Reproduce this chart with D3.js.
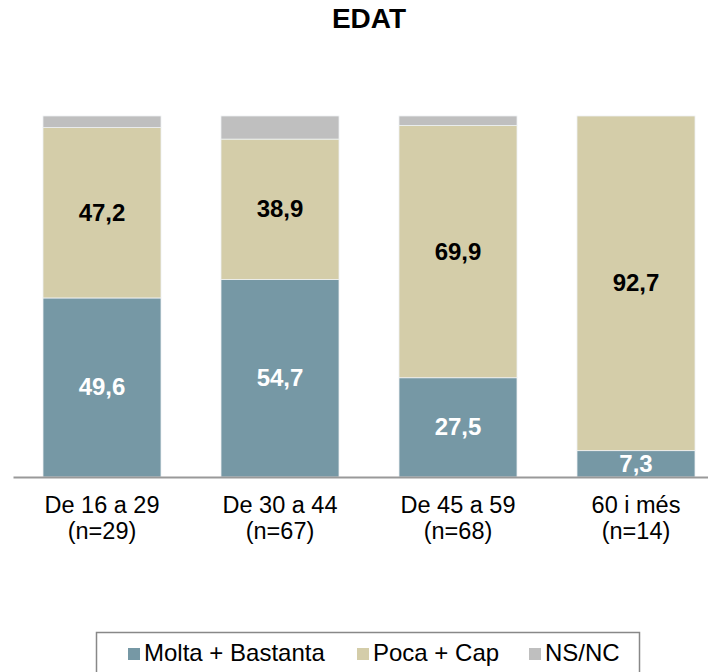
<!DOCTYPE html>
<html>
<head>
<meta charset="utf-8">
<script src="https://cdn.jsdelivr.net/npm/d3@7"></script>
<style>
  body { margin: 0; background: #fff; }
  text { font-family: "Liberation Sans", Arial, sans-serif; }
</style>
</head>
<body>
<div id="container"></div>
<script>
let w = 708;
let h = 672;

// data
let groups = ["De 16 a 29", "De 30 a 44", "De 45 a 59", "60 i més"];
let sampleSizes = ["(n=29)", "(n=67)", "(n=68)", "(n=14)"];
let seriesNames = ["Molta + Bastanta", "Poca + Cap", "NS/NC"];
let moltaBastanta = [49.6, 54.7, 27.5, 7.3];
let pocaCap = [47.2, 38.9, 69.9, 92.7];
let nsnc = [3.2, 6.4, 2.6, 0];
let colors = ["#7698a5", "#d4cda9", "#bfbfbf"];
let labelColors = ["#fff", "#000", "none"];

let viz = d3.select("#container")
  .append("svg")
    .attr("width", w)
    .attr("height", h)
    .style("background-color", "white");

// title
viz.append("text")
  .attr("x", 369)
  .attr("y", 28)
  .attr("text-anchor", "middle")
  .style("font-size", "28px")
  .style("font-weight", "bold")
  .text("EDAT");

let xScale = d3.scaleBand()
  .domain(groups)
  .range([13, 725])
  .paddingInner(60 / 178)
  .paddingOuter(30 / 178);

let yScale = d3.scaleLinear().domain([0, 100]).range([477, 116]);

// build stacked table
let table = groups.map(function(g, i){
  return { group: g, s0: moltaBastanta[i], s1: pocaCap[i], s2: nsnc[i] };
});
let stack = d3.stack().keys(["s0", "s1", "s2"]);
let stacked = stack(table);

let layers = viz.selectAll(".layer").data(stacked).enter()
  .append("g")
  .attr("class", "layer")
  .attr("fill", function(d, i){ return colors[i]; });

layers.selectAll("rect").data(function(d){ return d; }).enter()
  .append("rect")
    .attr("x", function(d){ return xScale(d.data.group); })
    .attr("y", function(d){ return yScale(d[1]); })
    .attr("width", xScale.bandwidth())
    .attr("height", function(d){ return yScale(d[0]) - yScale(d[1]); })
    .attr("stroke", "#eef1f2")
    .attr("stroke-width", 0.8);

// value labels
stacked.forEach(function(layer, li){
  if (li == 2) return;
  viz.append("g").selectAll("text").data(layer).enter()
    .append("text")
      .attr("x", function(d){ return xScale(d.data.group) + xScale.bandwidth() / 2; })
      .attr("y", function(d){ return (yScale(d[0]) + yScale(d[1])) / 2 + 8; })
      .attr("text-anchor", "middle")
      .attr("fill", labelColors[li])
      .style("font-size", "24px")
      .style("font-weight", "bold")
      .text(function(d){ return d3.format(".1f")(d[1] - d[0]).replace(".", ","); });
});

// x axis
let xAxisGroup = viz.append("g")
  .attr("class", "xaxis")
  .attr("transform", "translate(0,477)");
let xAxis = d3.axisBottom(xScale).tickSize(0).tickPadding(0).tickFormat("");
xAxisGroup.call(xAxis);
xAxisGroup.select(".domain")
  .attr("stroke", "#999")
  .attr("stroke-width", 2);

xAxisGroup.selectAll(".tick").each(function(d, i){
  let t = d3.select(this);
  t.append("text")
    .attr("y", 36)
    .attr("fill", "#000")
    .attr("text-anchor", "middle")
    .style("font-size", "23.5px")
    .text(d);
  t.append("text")
    .attr("y", 62)
    .attr("fill", "#000")
    .attr("text-anchor", "middle")
    .style("font-size", "23.5px")
    .text(sampleSizes[i]);
});

// legend
viz.append("rect")
  .attr("x", 96.5)
  .attr("y", 632.5)
  .attr("width", 543)
  .attr("height", 60)
  .attr("fill", "none")
  .attr("stroke", "#888")
  .attr("stroke-width", 1.5);

let legendX = [128, 357, 529];
let legend = viz.selectAll(".legenditem").data(seriesNames).enter()
  .append("g")
  .attr("class", "legenditem")
  .attr("transform", function(d, i){ return "translate(" + legendX[i] + ",648)"; });
legend.append("rect")
  .attr("width", 12)
  .attr("height", 12)
  .attr("fill", function(d, i){ return colors[i]; });
legend.append("text")
  .attr("x", 16)
  .attr("y", 13)
  .style("font-size", "24px")
  .text(function(d){ return d; });
</script>
</body>
</html>
